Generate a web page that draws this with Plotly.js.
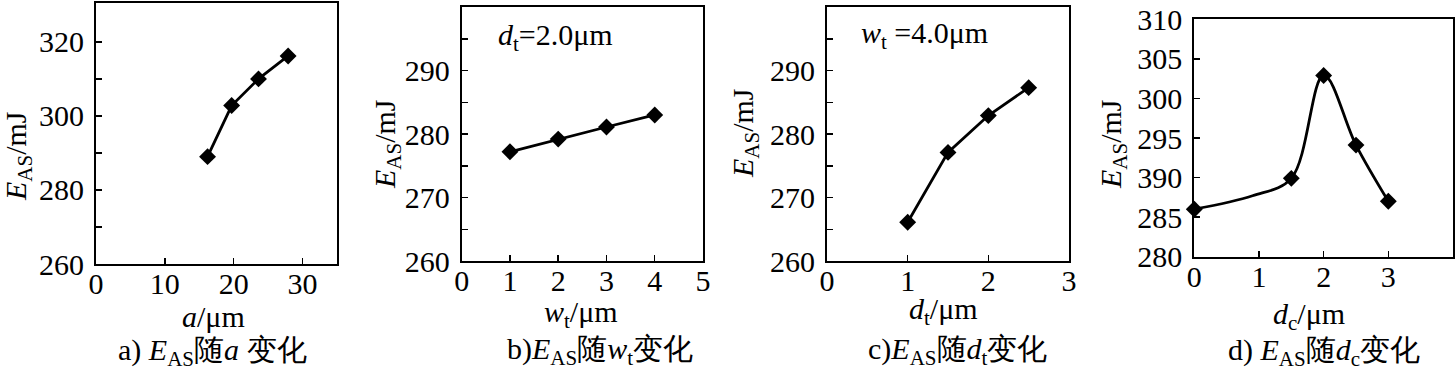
<!DOCTYPE html>
<html>
<head>
<meta charset="utf-8">
<script src="https://cdn.plot.ly/plotly-3.0.1.min.js"></script>
<style>
  html, body { margin: 0; padding: 0; background: #fff; }
  #chart { width: 1456px; height: 372px; }
</style>
</head>
<body>
<div id="chart"></div>
<script>
// ---- data ----
const aX = [16.2, 19.7, 23.6, 27.9];
const aY = [289.0, 302.8, 310.0, 316.2];

const bX = [1, 2, 3, 4];
const bY = [277.2, 279.2, 281.1, 283.0];

const cX = [1.0, 1.5, 2.0, 2.5];
const cY = [266.1, 277.1, 282.9, 287.3];

const dX = [0, 1.5, 2.0, 2.5, 3.0];
const dY = [286.0, 289.9, 302.9, 294.1, 287.0];
// smooth curve of panel d (passes a shoulder near x≈0.9)
const dCurveX = [0, 0.9, 1.5, 2.0, 2.5, 3.0];
const dCurveY = [286.0, 287.7, 289.9, 302.9, 294.1, 287.0];

// tick labels
const aYTicks = [260, 270, 280, 290, 300, 310, 320];
const aYText  = ['260', '', '280', '', '300', '', '320'];
const aXTicks = [0, 10, 20, 30];
const bcYTicks = [260, 265, 270, 275, 280, 285, 290, 295, 300];
const bcYText  = ['260', '', '270', '', '280', '', '290', '', '300'];
const bXTicks = [0, 1, 2, 3, 4, 5];
const cXTicks = [0, 1, 2, 3];
const dYTicks = [280, 285, 290, 295, 300, 305, 310];
const dYText  = ['280', '285', '390', '295', '300', '305', '310'];
const dXTicks = [0, 1, 2, 3, 4];

const FONT = 'Liberation Serif';
const FS = 30;
const W = 1456, H = 372;
const px = v => v / W;
const py = v => 1 - v / H;

function axis(extra) {
  return Object.assign({
    showline: true, linecolor: '#000', linewidth: 2, mirror: true,
    ticks: 'inside', ticklen: 6, tickwidth: 1.5, tickcolor: '#000',
    showgrid: false, zeroline: false, fixedrange: true,
    tickfont: { family: FONT, size: FS, color: '#000' }
  }, extra);
}
const xAxis = e => axis(Object.assign({ ticklabelstandoff: -8 }, e));
const yAxis = e => axis(Object.assign({ ticklabelstandoff: 4 }, e));

const lineStyle = { color: '#000', width: 2.8 };
const markerStyle = { symbol: 'diamond', size: 13, color: '#000' };

const traces = [
  { x: aX, y: aY, xaxis: 'x', yaxis: 'y', mode: 'lines+markers', line: lineStyle, marker: markerStyle, cliponaxis: false },
  { x: bX, y: bY, xaxis: 'x2', yaxis: 'y2', mode: 'lines+markers', line: lineStyle, marker: markerStyle, cliponaxis: false },
  { x: cX, y: cY, xaxis: 'x3', yaxis: 'y3', mode: 'lines+markers', line: lineStyle, marker: markerStyle, cliponaxis: false },
  { x: dCurveX, y: dCurveY, xaxis: 'x4', yaxis: 'y4', mode: 'lines', line: Object.assign({ shape: 'spline', smoothing: 1 }, lineStyle), cliponaxis: false },
  { x: dX, y: dY, xaxis: 'x4', yaxis: 'y4', mode: 'markers', marker: markerStyle, cliponaxis: false }
];

function ann(text, x, y, extra) {
  return Object.assign({
    text: text, x: px(x), y: py(y), xref: 'paper', yref: 'paper',
    xanchor: 'center', yanchor: 'middle', showarrow: false,
    font: { family: FONT, size: FS, color: '#000' }
  }, extra || {});
}

const E = '<i>E</i><sub>AS</sub>';

const layout = {
  width: W, height: H,
  margin: { l: 0, r: 0, t: 0, b: 0 },
  paper_bgcolor: '#fff', plot_bgcolor: '#fff',
  font: { family: FONT, size: FS, color: '#000' },
  showlegend: false,
  xaxis:  xAxis({ domain: [px(96), px(337)], range: [0, 35], tickvals: aXTicks, anchor: 'y' }),
  yaxis:  yAxis({ domain: [py(264), py(3)], range: [260, 330.5], tickvals: aYTicks, ticktext: aYText, anchor: 'x' }),
  xaxis2: xAxis({ domain: [px(461.7), px(703)], range: [0, 5], tickvals: bXTicks, anchor: 'y2' }),
  yaxis2: yAxis({ domain: [py(261), py(7)], range: [260, 300], tickvals: bcYTicks, ticktext: bcYText, anchor: 'x2' }),
  xaxis3: xAxis({ domain: [px(827), px(1069)], range: [0, 3], tickvals: cXTicks, anchor: 'y3' }),
  yaxis3: yAxis({ domain: [py(261), py(7)], range: [260, 300], tickvals: bcYTicks, ticktext: bcYText, anchor: 'x3' }),
  xaxis4: xAxis({ domain: [px(1194.3), px(1453)], range: [0, 4], tickvals: dXTicks, anchor: 'y4' }),
  yaxis4: yAxis({ domain: [py(256.7), py(19.3)], range: [280, 310], tickvals: dYTicks, ticktext: dYText, anchor: 'x4' }),
  annotations: [
    // y axis titles
    ann(E + '/mJ', 18, 156, { textangle: -90 }),
    ann(E + '/mJ', 387, 144, { textangle: -90 }),
    ann(E + '/mJ', 745, 133, { textangle: -90 }),
    ann(E + '/mJ', 1113, 144, { textangle: -90 }),
    // x axis titles
    ann('<i>a</i>/μm', 213, 316),
    ann('<i>w</i><sub>t</sub>/μm', 581, 314),
    ann('<i>d</i><sub>t</sub>/μm', 943, 311),
    ann('<i>d</i><sub>c</sub>/μm', 1309, 316),
    // in-plot notes
    ann('<i>d</i><sub>t</sub>=2.0μm', 555, 37),
    ann('<i>w</i><sub>t</sub> =4.0μm', 924, 35),
    // captions
    ann('a) ' + E + '随<i>a</i> 变化', 212, 352),
    ann('b)' + E + '随<i>w</i><sub>t</sub>变化', 600, 351),
    ann('c)' + E + '随<i>d</i><sub>t</sub>变化', 957, 351),
    ann('d) ' + E + '随<i>d</i><sub>c</sub>变化', 1324, 352)
  ]
};

Plotly.newPlot('chart', traces, layout, { staticPlot: true, displayModeBar: false });
</script>
</body>
</html>
